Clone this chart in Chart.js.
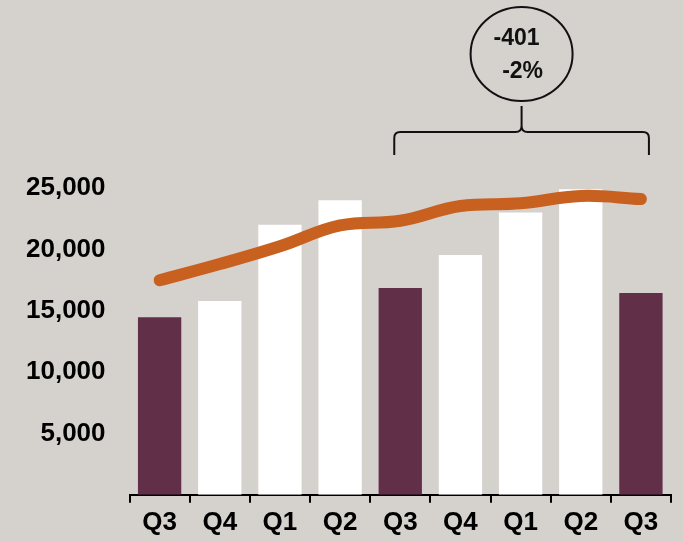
<!DOCTYPE html>
<html>
<head>
<meta charset="utf-8">
<script src="https://cdn.jsdelivr.net/npm/chart.js@4"></script>
<style>
  html, body { margin: 0; padding: 0; background: #d5d1cd; }
  #wrap { width: 683px; height: 542px; }
</style>
</head>
<body>
<div id="wrap"><canvas id="chart"></canvas></div>
<script>
const quarters = ['Q3', 'Q4', 'Q1', 'Q2', 'Q3', 'Q4', 'Q1', 'Q2', 'Q3'];
const quarterly = [14460, 15790, 22000, 24000, 16850, 19550, 23010, 24890, 16449];
const trend = [17480, 18800, 20250, 21950, 22330, 23530, 23750, 24350, 24100];
const yTicks = [5000, 10000, 15000, 20000, 25000];
const changeLabel = ['-401', '-2%'];

// Q3 bars are highlighted, the other quarters are white
const barColors = quarters.map(q => q === 'Q3' ? '#612f48' : '#ffffff');

const FONT = "'Liberation Sans', Arial, sans-serif";

// bracket over the last year plus the circled change figure
const bracketPlugin = {
    id: 'bracket',
    afterDraw(chart) {
        const ctx = chart.ctx;
        const x = chart.scales.x;
        const top = chart.chartArea.top;
        const x0 = x.getPixelForValue(4) - 6;
        const x1 = x.getPixelForValue(8) + 8;
        const xm = (x0 + x1) / 2;
        const yb = top - 56;
        const yEnd = top - 33;
        const r = 6;

        ctx.save();
        ctx.strokeStyle = '#111';
        ctx.lineWidth = 2;
        ctx.beginPath();
        ctx.moveTo(x0, yEnd);
        ctx.lineTo(x0, yb + r);
        ctx.quadraticCurveTo(x0, yb, x0 + r, yb);
        ctx.lineTo(xm - r, yb);
        ctx.quadraticCurveTo(xm, yb, xm, yb - r);
        ctx.lineTo(xm, yb - 26);
        ctx.moveTo(xm, yb - r);
        ctx.quadraticCurveTo(xm, yb, xm + r, yb);
        ctx.lineTo(x1 - r, yb);
        ctx.quadraticCurveTo(x1, yb, x1, yb + r);
        ctx.lineTo(x1, yEnd);
        ctx.stroke();

        const cy = yb - 78;
        ctx.beginPath();
        ctx.ellipse(xm, cy, 51, 47, 0, 0, Math.PI * 2);
        ctx.stroke();

        ctx.fillStyle = '#111';
        ctx.font = 'bold 23px ' + FONT;
        ctx.textAlign = 'center';
        ctx.textBaseline = 'middle';
        ctx.fillText(changeLabel[0], xm - 5, cy - 15);
        ctx.fillText(changeLabel[1], xm + 1, cy + 18);
        ctx.restore();
    }
};

new Chart(document.getElementById('chart'), {
    data: {
        labels: quarters,
        datasets: [
            {
                type: 'line',
                data: trend,
                borderColor: '#c8601f',
                borderWidth: 12,
                borderCapStyle: 'round',
                borderJoinStyle: 'round',
                tension: 0.4,
                pointRadius: 0,
                fill: false,
                order: 0
            },
            {
                type: 'bar',
                data: quarterly,
                backgroundColor: barColors,
                borderWidth: 0,
                categoryPercentage: 1,
                barPercentage: 0.72,
                order: 1
            }
        ]
    },
    options: {
        responsive: true,
        maintainAspectRatio: false,
        animation: false,
        layout: { padding: { top: 188, left: 10, right: 12, bottom: 0 } },
        plugins: {
            legend: { display: false },
            tooltip: { enabled: false }
        },
        scales: {
            x: {
                offset: true,
                border: { display: true, color: '#000', width: 2 },
                grid: {
                    offset: true,
                    drawOnChartArea: false,
                    drawTicks: true,
                    tickLength: 8,
                    color: '#000',
                    lineWidth: 2
                },
                ticks: {
                    color: '#000',
                    padding: 4,
                    font: { family: FONT, size: 26, weight: 'bold' }
                }
            },
            y: {
                min: 0,
                max: 25000,
                border: { display: false },
                grid: { display: false },
                afterBuildTicks: axis => {
                    axis.ticks = yTicks.map(v => ({ value: v }));
                },
                ticks: {
                    color: '#000',
                    padding: 16,
                    font: { family: FONT, size: 26, weight: 'bold' },
                    callback: v => v.toLocaleString('en-US')
                }
            }
        }
    },
    plugins: [bracketPlugin]
});
</script>
</body>
</html>
